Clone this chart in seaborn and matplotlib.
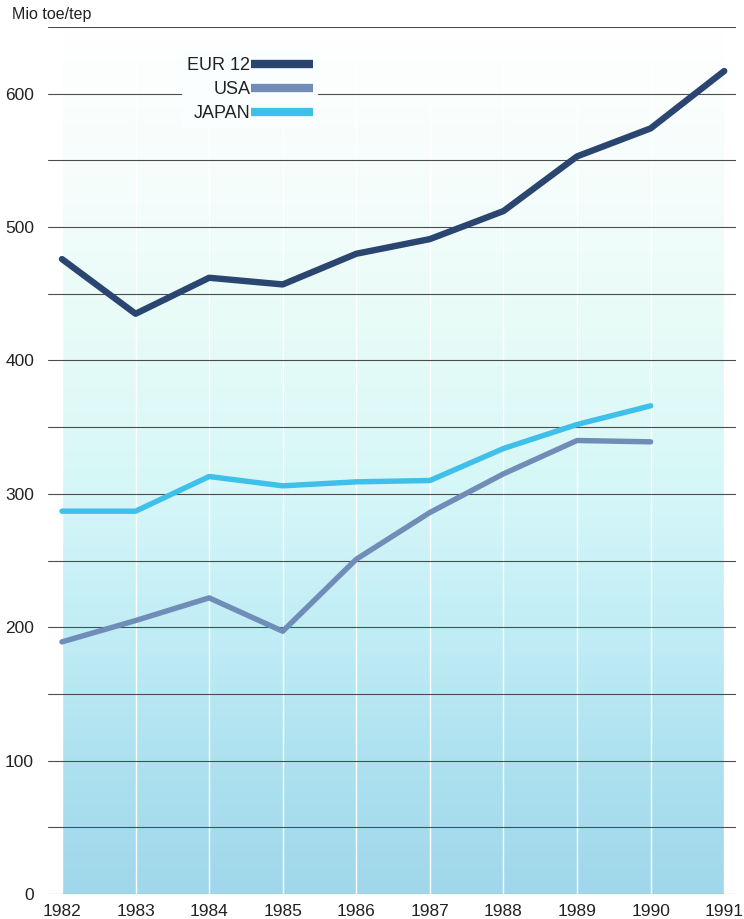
"""
Energy consumption chart: EUR 12 vs USA vs JAPAN, 1982-1991.
"""

import matplotlib
matplotlib.use("Agg")
import matplotlib.pyplot as plt
from matplotlib.colors import LinearSegmentedColormap
import seaborn as sns
import numpy as np
import pandas as pd

# Data (Mio toe/tep)
years = [1982, 1983, 1984, 1985, 1986, 1987, 1988, 1989, 1990, 1991]
eur12 = [476, 435, 462, 457, 480, 491, 512, 553, 574, 617]
usa = [189, 205, 222, 197, 251, 286, 315, 340, 339]
japan = [287, 287, 313, 306, 309, 310, 334, 352, 366]

series_names = ["EUR 12", "USA", "JAPAN"]
series_colors = ["#2a4670", "#6f8db7", "#3ec0ea"]
series_widths = [4.6, 3.9, 3.9]
y_ticks = list(range(0, 651, 50))
y_labels = [str(v) if v % 100 == 0 and v < 650 else "" for v in y_ticks]

sns.set_theme(style="white")
plt.rcParams["font.family"] = ["Liberation Sans", "DejaVu Sans"]

# Long-form table for seaborn
df = pd.concat([
    pd.DataFrame({"year": years[:len(vals)], "value": vals, "series": name})
    for name, vals in zip(series_names, [eur12, usa, japan])
], ignore_index=True)

fig = plt.figure(figsize=(7.44, 9.19), dpi=100)
ax = fig.add_axes([48 / 744, 25 / 919, 688 / 744, 867 / 919])

# Gradient backdrop behind the year columns
bg = LinearSegmentedColormap.from_list("bg", [
    (0.0, "#a0d7ea"), (0.16, "#aee2f0"), (0.32, "#c3eef6"),
    (0.47, "#d6f7f8"), (0.64, "#e6fbf7"), (0.80, "#f4fdfb"), (1.0, "#ffffff"),
])
grad = np.linspace(0, 1, 256).reshape(-1, 1)
ax.imshow(grad, cmap=bg, origin="lower", aspect="auto",
          extent=[years[0], years[-1], 0, 650], zorder=0)

# White year separators
ax.vlines(years, 0, 650, color="white", lw=1.0, zorder=1)

# Horizontal rules
for v in y_ticks:
    ax.axhline(v, color="#4d4d4d", lw=0.8, zorder=1)

sns.lineplot(data=df, x="year", y="value", hue="series", hue_order=series_names,
             palette=series_colors, ax=ax, legend=False, zorder=3)
for line, w in zip(ax.get_lines()[-3:], series_widths):
    line.set_linewidth(w)
    line.set_solid_capstyle("round")
    line.set_solid_joinstyle("round")

ax.set_xlim(1981.81, 1991.16)
ax.set_ylim(0, 650)
ax.set_xticks(years)
ax.set_xticklabels([str(y) for y in years], fontsize=12.5, color="#222222")
ax.set_yticks(y_ticks)
ax.set_yticklabels(y_labels, fontsize=12.5, color="#222222")
ax.tick_params(axis="both", length=0)
ax.tick_params(axis="y", pad=10)
ax.tick_params(axis="x", pad=7)
ax.set_xlabel("")
ax.set_ylabel("")
for s in ax.spines.values():
    s.set_visible(False)

# Legend: labels on the left, swatches on the right
handles = [plt.Line2D([], [], color=c, lw=6, solid_capstyle="butt") for c in series_colors]
leg = ax.legend(handles, series_names, loc="upper right", markerfirst=False,
                bbox_to_anchor=(318 / 744, (919 - 52) / 919),
                bbox_transform=fig.transFigure, fontsize=13,
                handlelength=3.4, handletextpad=0.05, labelspacing=0.38,
                borderpad=0.3, borderaxespad=0, frameon=True,
                facecolor="#fbfefe", edgecolor="none", framealpha=1)
leg.get_frame().set_boxstyle("square", pad=0)
leg.set_zorder(4)
for t in leg.get_texts():
    t.set_color("#222222")

fig.text(12 / 744, 1 - 15 / 919, "Mio toe/tep", fontsize=11.5, color="#222222",
         va="center", ha="left")

fig.savefig("out.png", dpi=100)
plt.close(fig)
